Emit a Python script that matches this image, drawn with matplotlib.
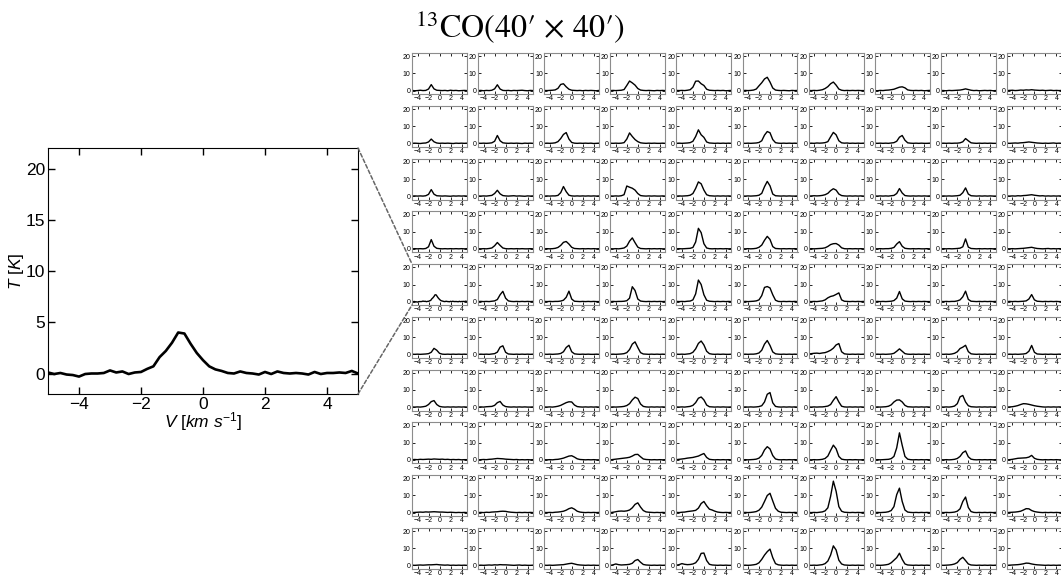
import numpy as np
import matplotlib
matplotlib.use("Agg")
import matplotlib.pyplot as plt
from matplotlib.patches import ConnectionPatch

plt.rcParams['font.family'] = ['Liberation Sans', 'DejaVu Sans']
plt.rcParams['mathtext.fontset'] = 'custom'
plt.rcParams['mathtext.it'] = 'Liberation Sans:italic'
plt.rcParams['mathtext.rm'] = 'Liberation Sans'

# averaged spectrum of the highlighted grid cell (row 4, column 0)
big_v = np.round(np.arange(-5.0, 5.01, 0.2), 1)
big_T = [0.1, -0.05, 0.05, -0.1, -0.15, -0.3, -0.05, 0.0, 0.0, 0.05,
         0.3, 0.1, 0.2, -0.05, 0.1, 0.15, 0.45, 0.7, 1.6, 2.2,
         3.0, 4.0, 3.9, 2.9, 2.0, 1.3, 0.7, 0.4, 0.25, 0.05,
         0.0, 0.2, 0.05, 0.0, -0.1, 0.15, -0.05, 0.2, 0.05, 0.0,
         0.05, 0.0, -0.1, 0.15, -0.05, 0.05, 0.05, 0.1, 0.05, 0.25, 0.0]

# velocity channels of the 10x10 grid spectra
v = np.round(np.arange(-5.0, 5.01, 0.5), 1)

row0 = [
    [0.1, -0.1, 0.0, 0.2, 0.0, 0.1, 0.9, 3.5, 1.0, 0.2, 0.1, 0.0, 0.1, -0.1, 0.2, 0.0, 0.1, -0.1, 0.0, 0.1, 0.0],
    [0.0, 0.1, -0.1, 0.1, 0.0, 0.2, 1.0, 3.4, 0.9, 0.1, 0.0, 0.1, -0.1, 0.1, 0.0, 0.1, 0.2, 0.0, -0.1, 0.1, 0.0],
    [0.1, 0.0, 0.1, 0.2, 0.4, 1.3, 3.6, 4.0, 2.2, 0.8, 0.2, 0.1, 0.0, 0.1, -0.1, 0.1, 0.0, 0.1, 0.0, -0.1, 0.1],
    [0.0, 0.1, 0.0, 0.1, 0.2, 0.6, 3.0, 5.6, 4.5, 3.2, 1.2, 0.3, 0.1, 0.0, 0.1, 0.0, -0.1, 0.1, 0.0, 0.1, 0.0],
    [0.1, 0.0, 0.1, 0.0, 0.2, 0.5, 2.0, 5.5, 5.6, 4.0, 3.0, 0.8, 0.2, 0.1, 0.0, 0.1, 0.0, 0.1, -0.1, 0.0, 0.1],
    [0.0, 0.1, 0.0, 0.1, 0.3, 0.9, 2.8, 4.6, 6.8, 7.8, 5.0, 1.5, 0.3, 0.1, 0.0, 0.1, 0.0, -0.1, 0.1, 0.0, 0.1],
    [0.1, 0.0, 0.1, 0.0, 0.2, 0.5, 1.2, 2.3, 4.0, 5.0, 3.2, 0.9, 0.2, 0.0, 0.1, 0.0, 0.1, 0.0, 0.1, 0.0, 0.0],
    [0.0, -0.1, 0.1, 0.0, 0.2, 0.3, 0.5, 0.8, 1.4, 2.0, 2.2, 1.6, 0.4, 0.1, 0.0, 0.1, 0.0, 0.1, -0.1, 0.0, 0.1],
    [0.1, 0.0, -0.1, 0.1, 0.0, 0.1, 0.2, 0.3, 0.6, 1.0, 0.6, 0.2, 0.0, 0.1, -0.1, 0.0, 0.1, 0.0, 0.1, -0.1, 0.0],
    [0.0, 0.1, 0.2, 0.0, 0.1, 0.3, 0.2, 0.4, 0.3, 0.5, 0.3, 0.2, 0.1, 0.2, 0.0, 0.1, 0.2, 0.0, 0.1, 0.0, 0.1],
]
row1 = [
    [0.0, 0.1, 0.0, -0.1, 0.1, 0.2, 0.8, 2.5, 0.9, 0.2, 0.0, 0.1, 0.0, 0.1, 0.0, -0.1, 0.1, 0.0, 0.1, 0.0, 0.1],
    [0.1, 0.0, 0.1, 0.0, 0.1, 0.3, 1.2, 4.6, 1.5, 0.3, 0.1, 0.0, 0.1, 0.0, 0.1, 0.0, -0.1, 0.1, 0.0, 0.1, 0.0],
    [0.0, 0.1, 0.0, 0.1, 0.3, 1.0, 2.8, 5.2, 6.3, 2.5, 0.5, 0.1, 0.0, 0.1, 0.0, 0.1, 0.0, 0.1, -0.1, 0.0, 0.1],
    [0.1, 0.0, 0.1, 0.0, 0.1, 0.4, 2.5, 6.1, 4.0, 2.2, 1.0, 0.3, 0.1, 0.0, 0.1, 0.0, 0.1, 0.0, 0.0, 0.1, 0.0],
    [0.0, 0.1, 0.0, 0.1, 0.2, 0.4, 1.2, 4.0, 7.9, 5.0, 3.5, 0.8, 0.2, 0.1, 0.0, 0.1, 0.0, 0.1, 0.0, 0.1, 0.0],
    [0.1, 0.0, 0.1, 0.0, 0.1, 0.2, 0.5, 1.5, 4.8, 6.9, 6.2, 2.2, 0.4, 0.1, 0.0, 0.1, 0.0, 0.1, 0.0, 0.1, 0.0],
    [0.0, 0.1, 0.0, 0.2, 0.1, 0.2, 0.4, 1.0, 3.8, 6.4, 5.0, 1.5, 0.3, 0.1, 0.2, 0.0, 0.1, 0.0, 0.1, 0.0, 0.1],
    [0.1, 0.0, 0.1, 0.0, 0.1, 0.0, 0.2, 0.4, 1.2, 3.6, 4.6, 1.8, 0.3, 0.1, 0.0, 0.1, 0.0, 0.1, 0.0, 0.0, 0.1],
    [0.0, 0.1, 0.0, 0.1, 0.0, 0.1, 0.1, 0.3, 0.9, 2.8, 1.5, 0.3, 0.1, 0.0, 0.1, 0.0, 0.1, 0.0, 0.1, 0.0, 0.0],
    [0.1, 0.0, 0.1, 0.2, 0.1, 0.3, 0.4, 0.6, 0.8, 0.6, 0.4, 0.2, 0.1, 0.0, 0.1, 0.0, 0.1, 0.2, 0.0, 0.1, 0.0],
]
row2 = [
    [0.0, 0.1, 0.0, 0.1, 0.0, 0.2, 1.0, 3.8, 1.1, 0.2, 0.1, 0.0, 0.1, 0.0, -0.1, 0.1, 0.0, 0.1, 0.0, 0.1, 0.0],
    [0.1, 0.0, 0.1, 0.0, 0.2, 0.4, 1.5, 3.4, 1.3, 0.3, 0.1, 0.0, 0.1, 0.2, 0.0, 0.1, 0.0, -0.1, 0.1, 0.0, 0.1],
    [0.0, 0.1, 0.0, 0.1, 0.1, 0.4, 2.0, 5.6, 2.6, 0.5, 0.1, 0.0, 0.1, 0.0, 0.1, 0.0, 0.1, 0.0, 0.1, 0.0, 0.1],
    [0.1, 0.0, 0.1, 0.0, 0.2, 0.8, 5.9, 5.2, 4.6, 3.5, 1.5, 0.3, 0.1, 0.0, 0.1, 0.0, 0.1, 0.0, 0.0, 0.1, 0.0],
    [0.0, 0.1, 0.0, 0.1, 0.2, 0.5, 1.5, 4.5, 8.3, 7.2, 3.5, 0.8, 0.2, 0.1, 0.0, 0.1, 0.0, 0.1, 0.0, 0.1, 0.0],
    [0.1, 0.0, 0.1, 0.0, 0.1, 0.2, 0.5, 1.6, 5.5, 8.6, 6.0, 1.2, 0.2, 0.1, 0.0, 0.1, 0.0, 0.1, 0.0, 0.0, 0.1],
    [0.0, 0.1, 0.2, 0.1, 0.2, 0.4, 0.8, 1.6, 3.2, 4.3, 3.5, 1.2, 0.3, 0.1, 0.0, 0.1, 0.0, 0.1, 0.0, 0.1, 0.0],
    [0.1, 0.0, 0.1, 0.0, 0.1, 0.0, 0.2, 0.4, 1.5, 4.4, 1.8, 0.3, 0.1, 0.0, 0.1, 0.0, 0.1, 0.0, 0.1, 0.0, 0.1],
    [0.0, 0.1, 0.0, 0.1, 0.0, 0.1, 0.2, 0.5, 2.0, 4.8, 1.2, 0.2, 0.1, 0.0, 0.1, 0.0, 0.1, 0.0, 0.1, 0.0, 0.0],
    [0.1, 0.0, 0.1, 0.0, 0.2, 0.1, 0.3, 0.4, 0.6, 0.8, 0.5, 0.3, 0.1, 0.2, 0.0, 0.1, 0.0, 0.1, 0.0, 0.1, 0.0],
]
row3 = [
    [0.0, 0.1, 0.0, 0.1, 0.0, 0.2, 1.2, 5.4, 1.5, 0.3, 0.1, 0.0, 0.1, 0.0, 0.1, 0.0, 0.1, 0.0, 0.1, 0.0, 0.1],
    [0.1, 0.0, 0.1, 0.0, 0.2, 0.5, 1.8, 3.7, 2.0, 0.5, 0.1, 0.0, 0.1, 0.0, 0.1, 0.0, 0.1, 0.0, 0.0, 0.1, 0.0],
    [0.0, 0.1, 0.0, 0.1, 0.3, 0.8, 2.0, 3.8, 4.3, 2.8, 0.9, 0.2, 0.1, 0.0, 0.1, 0.0, 0.1, 0.0, 0.1, 0.0, 0.1],
    [0.1, 0.0, 0.1, 0.0, 0.2, 0.5, 1.6, 4.5, 6.4, 3.6, 1.0, 0.2, 0.1, 0.0, 0.1, 0.0, 0.1, 0.0, 0.1, 0.0, 0.0],
    [0.0, 0.1, 0.0, 0.1, 0.2, 0.3, 0.8, 4.0, 12.0, 9.5, 3.0, 0.5, 0.1, 0.0, 0.1, 0.0, 0.1, 0.0, 0.1, 0.0, 0.1],
    [0.1, 0.0, 0.1, 0.0, 0.1, 0.3, 0.9, 2.2, 5.0, 7.3, 5.5, 1.3, 0.2, 0.1, 0.0, 0.1, 0.0, 0.1, 0.0, 0.1, 0.0],
    [0.0, 0.1, 0.0, 0.1, 0.2, 0.3, 0.6, 1.4, 2.5, 3.0, 3.1, 2.2, 0.6, 0.1, 0.0, 0.1, 0.0, 0.1, 0.0, 0.1, 0.0],
    [0.1, 0.0, 0.1, 0.0, 0.1, 0.1, 0.3, 0.8, 2.8, 4.2, 1.5, 0.3, 0.1, 0.0, 0.1, 0.0, 0.1, 0.0, 0.0, 0.1, 0.0],
    [0.0, 0.1, 0.0, 0.1, 0.0, 0.1, 0.2, 0.4, 1.2, 5.8, 1.0, 0.2, 0.1, 0.0, 0.1, 0.0, 0.1, 0.0, 0.1, 0.0, 0.1],
    [0.1, 0.0, 0.1, 0.0, 0.1, 0.2, 0.3, 0.5, 0.7, 0.9, 0.5, 0.2, 0.1, 0.0, 0.1, 0.2, 0.0, 0.1, 0.0, 0.1, 0.0],
]
# column 0 of this row is the cell shown enlarged on the left (None -> use big_T)
row4 = [
    None,
    [0.0, 0.1, 0.0, 0.1, 0.0, 0.2, 0.4, 1.2, 4.0, 6.0, 2.0, 0.4, 0.1, 0.0, 0.1, 0.0, 0.1, 0.0, 0.1, 0.0, 0.1],
    [0.1, 0.0, 0.1, 0.0, 0.1, 0.1, 0.3, 0.8, 2.5, 6.1, 1.5, 0.2, 0.1, 0.0, 0.1, 0.0, 0.1, 0.0, 0.1, 0.0, 0.0],
    [0.0, 0.1, 0.0, 0.1, 0.1, 0.2, 0.5, 2.0, 8.7, 6.5, 1.5, 0.3, 0.1, 0.0, 0.1, 0.0, 0.1, 0.0, 0.1, 0.0, 0.1],
    [0.1, 0.0, 0.1, 0.0, 0.2, 0.3, 1.0, 4.5, 12.6, 10.0, 4.0, 0.8, 0.2, 0.1, 0.0, 0.1, 0.0, 0.1, 0.0, 0.1, 0.0],
    [0.0, 0.1, 0.0, 0.1, 0.2, 0.4, 1.0, 3.5, 8.3, 8.8, 8.0, 4.0, 0.8, 0.1, 0.0, 0.1, 0.0, 0.1, 0.0, 0.1, 0.0],
    [0.1, 0.0, 0.1, 0.0, 0.2, 0.4, 1.0, 2.2, 3.0, 3.4, 4.2, 5.1, 1.0, 0.2, 0.1, 0.0, 0.1, 0.0, 0.1, 0.0, 0.1],
    [0.0, 0.1, 0.0, 0.1, 0.0, 0.1, 0.2, 0.6, 2.0, 5.9, 1.6, 0.3, 0.1, 0.0, 0.1, 0.0, 0.1, 0.0, 0.1, 0.0, 0.0],
    [0.1, 0.0, 0.1, 0.0, 0.1, 0.1, 0.4, 1.0, 2.8, 6.1, 1.3, 0.2, 0.1, 0.0, 0.1, 0.0, 0.1, 0.0, 0.1, 0.0, 0.1],
    [0.0, 0.1, 0.0, 0.1, 0.0, 0.1, 0.2, 0.4, 1.5, 4.1, 1.0, 0.2, 0.1, 0.0, 0.1, 0.0, 0.1, 0.0, 0.1, 0.0, 0.0],
]
row5 = [
    [0.1, 0.0, 0.1, 0.0, 0.1, 0.2, 0.4, 1.2, 3.5, 2.4, 0.6, 0.1, 0.0, 0.1, 0.0, 0.1, 0.0, 0.1, 0.0, 0.1, 0.0],
    [0.0, 0.1, 0.0, 0.1, 0.0, 0.2, 0.4, 1.3, 4.2, 5.0, 1.2, 0.2, 0.1, 0.0, 0.1, 0.0, 0.1, 0.0, 0.1, 0.0, 0.1],
    [0.1, 0.0, 0.1, 0.0, 0.1, 0.2, 0.5, 1.5, 4.0, 5.3, 1.5, 0.3, 0.1, 0.0, 0.1, 0.0, 0.1, 0.0, 0.0, 0.1, 0.0],
    [0.0, 0.1, 0.0, 0.1, 0.2, 0.4, 1.0, 2.8, 6.0, 7.3, 4.0, 1.0, 0.2, 0.1, 0.0, 0.1, 0.0, 0.1, 0.0, 0.1, 0.0],
    [0.1, 0.0, 0.1, 0.0, 0.2, 0.4, 1.2, 3.2, 6.4, 7.8, 5.5, 1.8, 0.4, 0.1, 0.0, 0.1, 0.0, 0.1, 0.0, 0.0, 0.1],
    [0.0, 0.1, 0.0, 0.1, 0.1, 0.3, 0.8, 2.4, 6.0, 8.1, 5.2, 1.4, 0.3, 0.1, 0.0, 0.1, 0.0, 0.1, 0.0, 0.1, 0.0],
    [0.2, 0.4, 0.6, 0.7, 0.5, 0.8, 1.0, 1.6, 2.4, 3.6, 5.5, 6.3, 1.5, 0.3, 0.1, 0.0, 0.1, 0.0, 0.1, 0.0, 0.1],
    [0.0, 0.1, 0.0, 0.1, 0.0, 0.1, 0.2, 0.6, 1.8, 3.2, 1.8, 0.4, 0.1, 0.0, 0.1, 0.0, 0.1, 0.0, 0.1, 0.0, 0.0],
    [0.1, 0.0, 0.1, 0.0, 0.2, 0.6, 1.5, 3.4, 4.2, 5.3, 1.6, 0.3, 0.1, 0.0, 0.1, 0.0, 0.1, 0.0, 0.1, 0.0, 0.1],
    [0.0, 0.1, 0.0, 0.1, 0.0, 0.1, 0.2, 0.5, 1.8, 5.2, 1.2, 0.2, 0.1, 0.0, 0.1, 0.0, 0.1, 0.0, 0.0, 0.1, 0.0],
]
row6 = [
    [0.1, 0.0, 0.1, 0.0, 0.2, 0.5, 1.5, 3.2, 3.8, 1.5, 0.4, 0.1, 0.0, 0.1, 0.0, 0.1, 0.0, 0.1, 0.0, 0.1, 0.0],
    [0.0, 0.1, 0.0, 0.2, 0.3, 0.4, 1.0, 2.6, 3.3, 1.2, 0.3, 0.1, 0.0, 0.1, 0.0, 0.1, 0.0, 0.1, 0.0, 0.0, 0.1],
    [0.1, 0.0, 0.1, 0.0, 0.2, 0.5, 1.0, 1.8, 2.6, 3.1, 3.0, 1.2, 0.3, 0.1, 0.0, 0.1, 0.0, 0.1, 0.0, 0.1, 0.0],
    [0.0, 0.1, 0.0, 0.1, 0.2, 0.4, 0.9, 2.0, 4.2, 5.8, 5.0, 1.8, 0.4, 0.1, 0.0, 0.1, 0.0, 0.1, 0.0, 0.1, 0.0],
    [0.1, 0.0, 0.1, 0.0, 0.2, 0.4, 1.0, 2.6, 5.2, 5.9, 4.2, 1.2, 0.2, 0.1, 0.0, 0.1, 0.0, 0.1, 0.0, 0.0, 0.1],
    [0.0, 0.1, 0.0, 0.1, 0.0, 0.1, 0.3, 0.8, 3.0, 7.5, 8.5, 2.5, 0.4, 0.1, 0.0, 0.1, 0.0, 0.1, 0.0, 0.1, 0.0],
    [0.1, 0.0, 0.1, 0.0, 0.1, 0.1, 0.3, 0.6, 1.5, 4.0, 6.1, 3.0, 0.5, 0.1, 0.0, 0.1, 0.0, 0.1, 0.0, 0.1, 0.0],
    [0.0, 0.1, 0.0, 0.1, 0.2, 0.5, 1.3, 3.0, 4.1, 4.2, 3.0, 1.0, 0.2, 0.1, 0.0, 0.1, 0.0, 0.1, 0.0, 0.1, 0.0],
    [0.1, 0.0, 0.1, 0.0, 0.2, 0.6, 2.0, 6.0, 6.8, 3.0, 0.8, 0.2, 0.1, 0.0, 0.1, 0.0, 0.1, 0.0, 0.1, 0.0, 0.1],
    [0.0, 0.1, 0.2, 0.5, 0.9, 1.5, 2.0, 1.9, 1.6, 1.2, 0.8, 0.5, 0.3, 0.1, 0.0, 0.1, 0.0, 0.1, 0.0, 0.1, 0.0],
]
row7 = [
    [0.1, 0.2, 0.1, 0.3, 0.2, 0.3, 0.4, 0.3, 0.5, 0.4, 0.3, 0.4, 0.2, 0.3, 0.1, 0.2, 0.1, 0.2, 0.0, 0.1, 0.1],
    [0.0, 0.1, 0.2, 0.1, 0.3, 0.4, 0.6, 0.8, 0.7, 0.6, 0.4, 0.3, 0.2, 0.1, 0.2, 0.0, 0.1, 0.0, 0.1, 0.0, 0.1],
    [0.1, 0.0, 0.1, 0.0, 0.2, 0.3, 0.6, 1.0, 1.6, 2.2, 2.4, 1.6, 0.6, 0.2, 0.1, 0.0, 0.1, 0.0, 0.1, 0.0, 0.0],
    [0.0, 0.2, 0.4, 0.6, 0.8, 1.0, 1.2, 1.5, 2.2, 3.1, 3.2, 1.8, 0.5, 0.2, 0.1, 0.0, 0.1, 0.0, 0.1, 0.0, 0.1],
    [0.1, 0.3, 0.5, 0.7, 1.0, 1.2, 1.4, 1.8, 2.2, 3.0, 3.7, 1.4, 0.3, 0.1, 0.0, 0.1, 0.0, 0.1, 0.0, 0.1, 0.0],
    [0.0, 0.1, 0.0, 0.1, 0.2, 0.4, 1.0, 2.6, 5.8, 7.7, 6.4, 2.5, 0.5, 0.1, 0.0, 0.1, 0.0, 0.1, 0.0, 0.1, 0.0],
    [0.1, 0.0, 0.1, 0.0, 0.1, 0.3, 0.8, 2.2, 5.5, 8.6, 6.5, 2.0, 0.4, 0.1, 0.0, 0.1, 0.0, 0.1, 0.0, 0.0, 0.1],
    [0.0, 0.1, 0.0, 0.1, 0.2, 0.3, 0.7, 2.0, 7.0, 15.8, 8.5, 2.0, 0.4, 0.1, 0.0, 0.1, 0.0, 0.1, 0.0, 0.1, 0.0],
    [0.1, 0.0, 0.1, 0.0, 0.1, 0.3, 0.8, 2.0, 4.2, 5.2, 1.8, 0.4, 0.1, 0.0, 0.1, 0.0, 0.1, 0.0, 0.1, 0.0, 0.1],
    [0.0, 0.1, 0.3, 0.6, 0.9, 1.0, 1.1, 1.2, 1.6, 2.6, 0.9, 0.3, 0.1, 0.0, 0.1, 0.0, 0.1, 0.0, 0.1, 0.0, 0.0],
]
row8 = [
    [0.0, 0.1, 0.2, 0.3, 0.2, 0.4, 0.3, 0.4, 0.5, 0.4, 0.3, 0.3, 0.2, 0.1, 0.2, 0.1, 0.0, 0.1, 0.0, 0.1, 0.0],
    [0.0, 0.1, 0.0, 0.2, 0.1, 0.3, 0.4, 0.5, 0.7, 0.8, 0.7, 0.4, 0.2, 0.1, 0.0, 0.1, 0.0, 0.1, 0.0, 0.1, 0.0],
    [0.1, 0.0, 0.1, 0.0, 0.2, 0.3, 0.5, 0.8, 1.4, 2.3, 2.8, 2.0, 0.8, 0.3, 0.1, 0.0, 0.1, 0.0, 0.1, 0.0, 0.1],
    [0.0, 0.2, 0.5, 0.8, 0.9, 0.8, 1.0, 1.5, 2.8, 4.8, 5.7, 3.2, 1.2, 0.4, 0.2, 0.1, 0.0, 0.1, 0.0, 0.1, 0.0],
    [0.1, 0.0, 0.2, 0.3, 0.6, 0.8, 1.0, 1.3, 2.6, 5.3, 6.5, 4.0, 2.0, 1.5, 0.8, 0.3, 0.1, 0.0, 0.1, 0.0, 0.1],
    [0.0, 0.1, 0.0, 0.1, 0.3, 0.6, 1.4, 3.2, 6.5, 10.0, 11.3, 6.8, 2.5, 0.8, 0.2, 0.1, 0.0, 0.1, 0.0, 0.1, 0.0],
    [0.1, 0.0, 0.1, 0.0, 0.2, 0.4, 1.0, 2.8, 9.5, 18.4, 12.5, 3.5, 0.8, 0.2, 0.1, 0.0, 0.1, 0.0, 0.1, 0.0, 0.1],
    [0.0, 0.1, 0.0, 0.1, 0.2, 0.5, 1.2, 3.5, 10.5, 14.3, 6.5, 1.5, 0.3, 0.1, 0.0, 0.1, 0.0, 0.1, 0.0, 0.1, 0.0],
    [0.1, 0.0, 0.1, 0.0, 0.1, 0.3, 0.8, 2.2, 6.5, 9.1, 3.0, 0.6, 0.1, 0.0, 0.1, 0.0, 0.1, 0.0, 0.1, 0.0, 0.1],
    [0.0, 0.1, 0.2, 0.3, 0.5, 0.8, 1.5, 2.3, 2.2, 1.2, 0.6, 0.3, 0.1, 0.0, 0.1, 0.0, 0.1, 0.0, 0.1, 0.0, 0.0],
]
row9 = [
    [0.1, 0.0, 0.1, 0.2, 0.1, 0.2, 0.3, 0.3, 0.4, 0.5, 0.3, 0.2, 0.1, 0.2, 0.0, 0.1, 0.0, 0.1, 0.0, 0.1, 0.0],
    [0.0, 0.1, 0.0, 0.1, 0.2, 0.1, 0.3, 0.2, 0.4, 0.3, 0.3, 0.2, 0.1, 0.0, 0.1, 0.2, 0.0, 0.1, 0.0, 0.0, 0.1],
    [0.1, 0.0, 0.1, 0.0, 0.1, 0.2, 0.3, 0.4, 0.7, 1.0, 1.2, 0.8, 0.4, 0.2, 0.1, 0.0, 0.1, 0.0, 0.1, 0.0, 0.0],
    [0.0, 0.3, 0.8, 0.4, 0.2, 0.3, 0.4, 0.6, 1.2, 2.8, 3.4, 1.8, 0.5, 0.2, 0.1, 0.0, 0.1, 0.0, 0.1, 0.0, 0.1],
    [0.1, 0.4, 1.0, 0.6, 0.4, 0.5, 0.8, 1.5, 3.5, 7.0, 7.2, 2.8, 0.6, 0.2, 0.1, 0.0, 0.1, 0.0, 0.1, 0.0, 0.0],
    [0.0, 0.1, 0.0, 0.1, 0.3, 0.6, 1.5, 3.5, 6.0, 8.0, 9.5, 4.5, 1.0, 0.3, 0.1, 0.0, 0.1, 0.0, 0.1, 0.0, 0.1],
    [0.1, 0.0, 0.1, 0.0, 0.2, 0.4, 1.0, 2.5, 6.0, 11.4, 9.0, 3.0, 0.8, 0.2, 0.1, 0.0, 0.1, 0.0, 0.1, 0.0, 0.0],
    [0.0, 0.1, 0.0, 0.1, 0.3, 0.6, 1.5, 3.0, 4.5, 7.1, 3.5, 0.8, 0.2, 0.1, 0.0, 0.1, 0.0, 0.1, 0.0, 0.1, 0.0],
    [0.1, 0.0, 0.1, 0.2, 0.4, 0.8, 1.6, 3.5, 4.7, 2.8, 0.8, 0.2, 0.1, 0.0, 0.1, 0.0, 0.1, 0.0, 0.1, 0.0, 0.1],
    [0.0, 0.1, 0.2, 0.3, 0.4, 0.6, 0.9, 1.3, 1.2, 0.8, 0.5, 0.3, 0.2, 0.1, 0.0, 0.1, 0.0, 0.1, 0.0, 0.1, 0.0],
]
grid_rows = [row0, row1, row2, row3, row4, row5, row6, row7, row8, row9]

W, H = 1061, 579
fig = plt.figure(figsize=(W / 100, H / 100), dpi=100)

# ---- enlarged spectrum on the left
ax = fig.add_axes([48 / W, 1 - 394 / H, 310 / W, 246 / H])
ax.plot(big_v, big_T, color='black', lw=1.9)
ax.set_xlim(-5, 5)
ax.set_ylim(-2, 22)
ax.set_xticks([-4, -2, 0, 2, 4])
ax.set_yticks([0, 5, 10, 15, 20])
ax.tick_params(direction='in', top=True, right=True, length=5, width=1,
               labelsize=12.5, pad=2)
ax.set_xlabel(r'$V\ [km\ s^{-1}]$', fontsize=12.5, labelpad=-1)
ax.set_ylabel(r'$T\ [K]$', fontsize=12.5, labelpad=0)

# ---- 10x10 grid of small spectra
x0, y0 = 412, 53
dx, dy = 66.1, 52.75
cw, ch = 55, 41
cells = {}
for r, row in enumerate(grid_rows):
    for c, spec in enumerate(row):
        a = fig.add_axes([(x0 + dx * c) / W, 1 - (y0 + dy * r + ch) / H, cw / W, ch / H])
        if spec is None:
            a.plot(big_v, big_T, color='black', lw=1.0)
        else:
            a.plot(v, spec, color='black', lw=1.0)
        a.set_xlim(-5, 5)
        a.set_ylim(-2, 22)
        a.set_xticks([-4, -2, 0, 2, 4])
        a.set_yticks([0, 10, 20])
        a.tick_params(direction='in', top=True, right=True, length=2.5, width=0.6,
                      labelsize=5, pad=1)
        for s in a.spines.values():
            s.set_color('0.55')
            s.set_linewidth(0.8)
        cells[(r, c)] = a

# dashed lines linking the enlarged panel to its grid cell
target = cells[(4, 0)]
for ya, yb in [(1, 1), (0, 0)]:
    con = ConnectionPatch(xyA=(1, ya), coordsA=ax.transAxes,
                          xyB=(0, yb), coordsB=target.transAxes,
                          color='0.4', lw=1.1, linestyle=(0, (2.5, 1.5)))
    fig.add_artist(con)

fig.text(415 / W, 1 - 37 / H, "$^{13}$CO(40\u2032 \u00d7 40\u2032)",
         fontsize=23, family='STIXGeneral', math_fontfamily='stix',
         ha='left', va='baseline')

fig.savefig('out.png', dpi=100)
